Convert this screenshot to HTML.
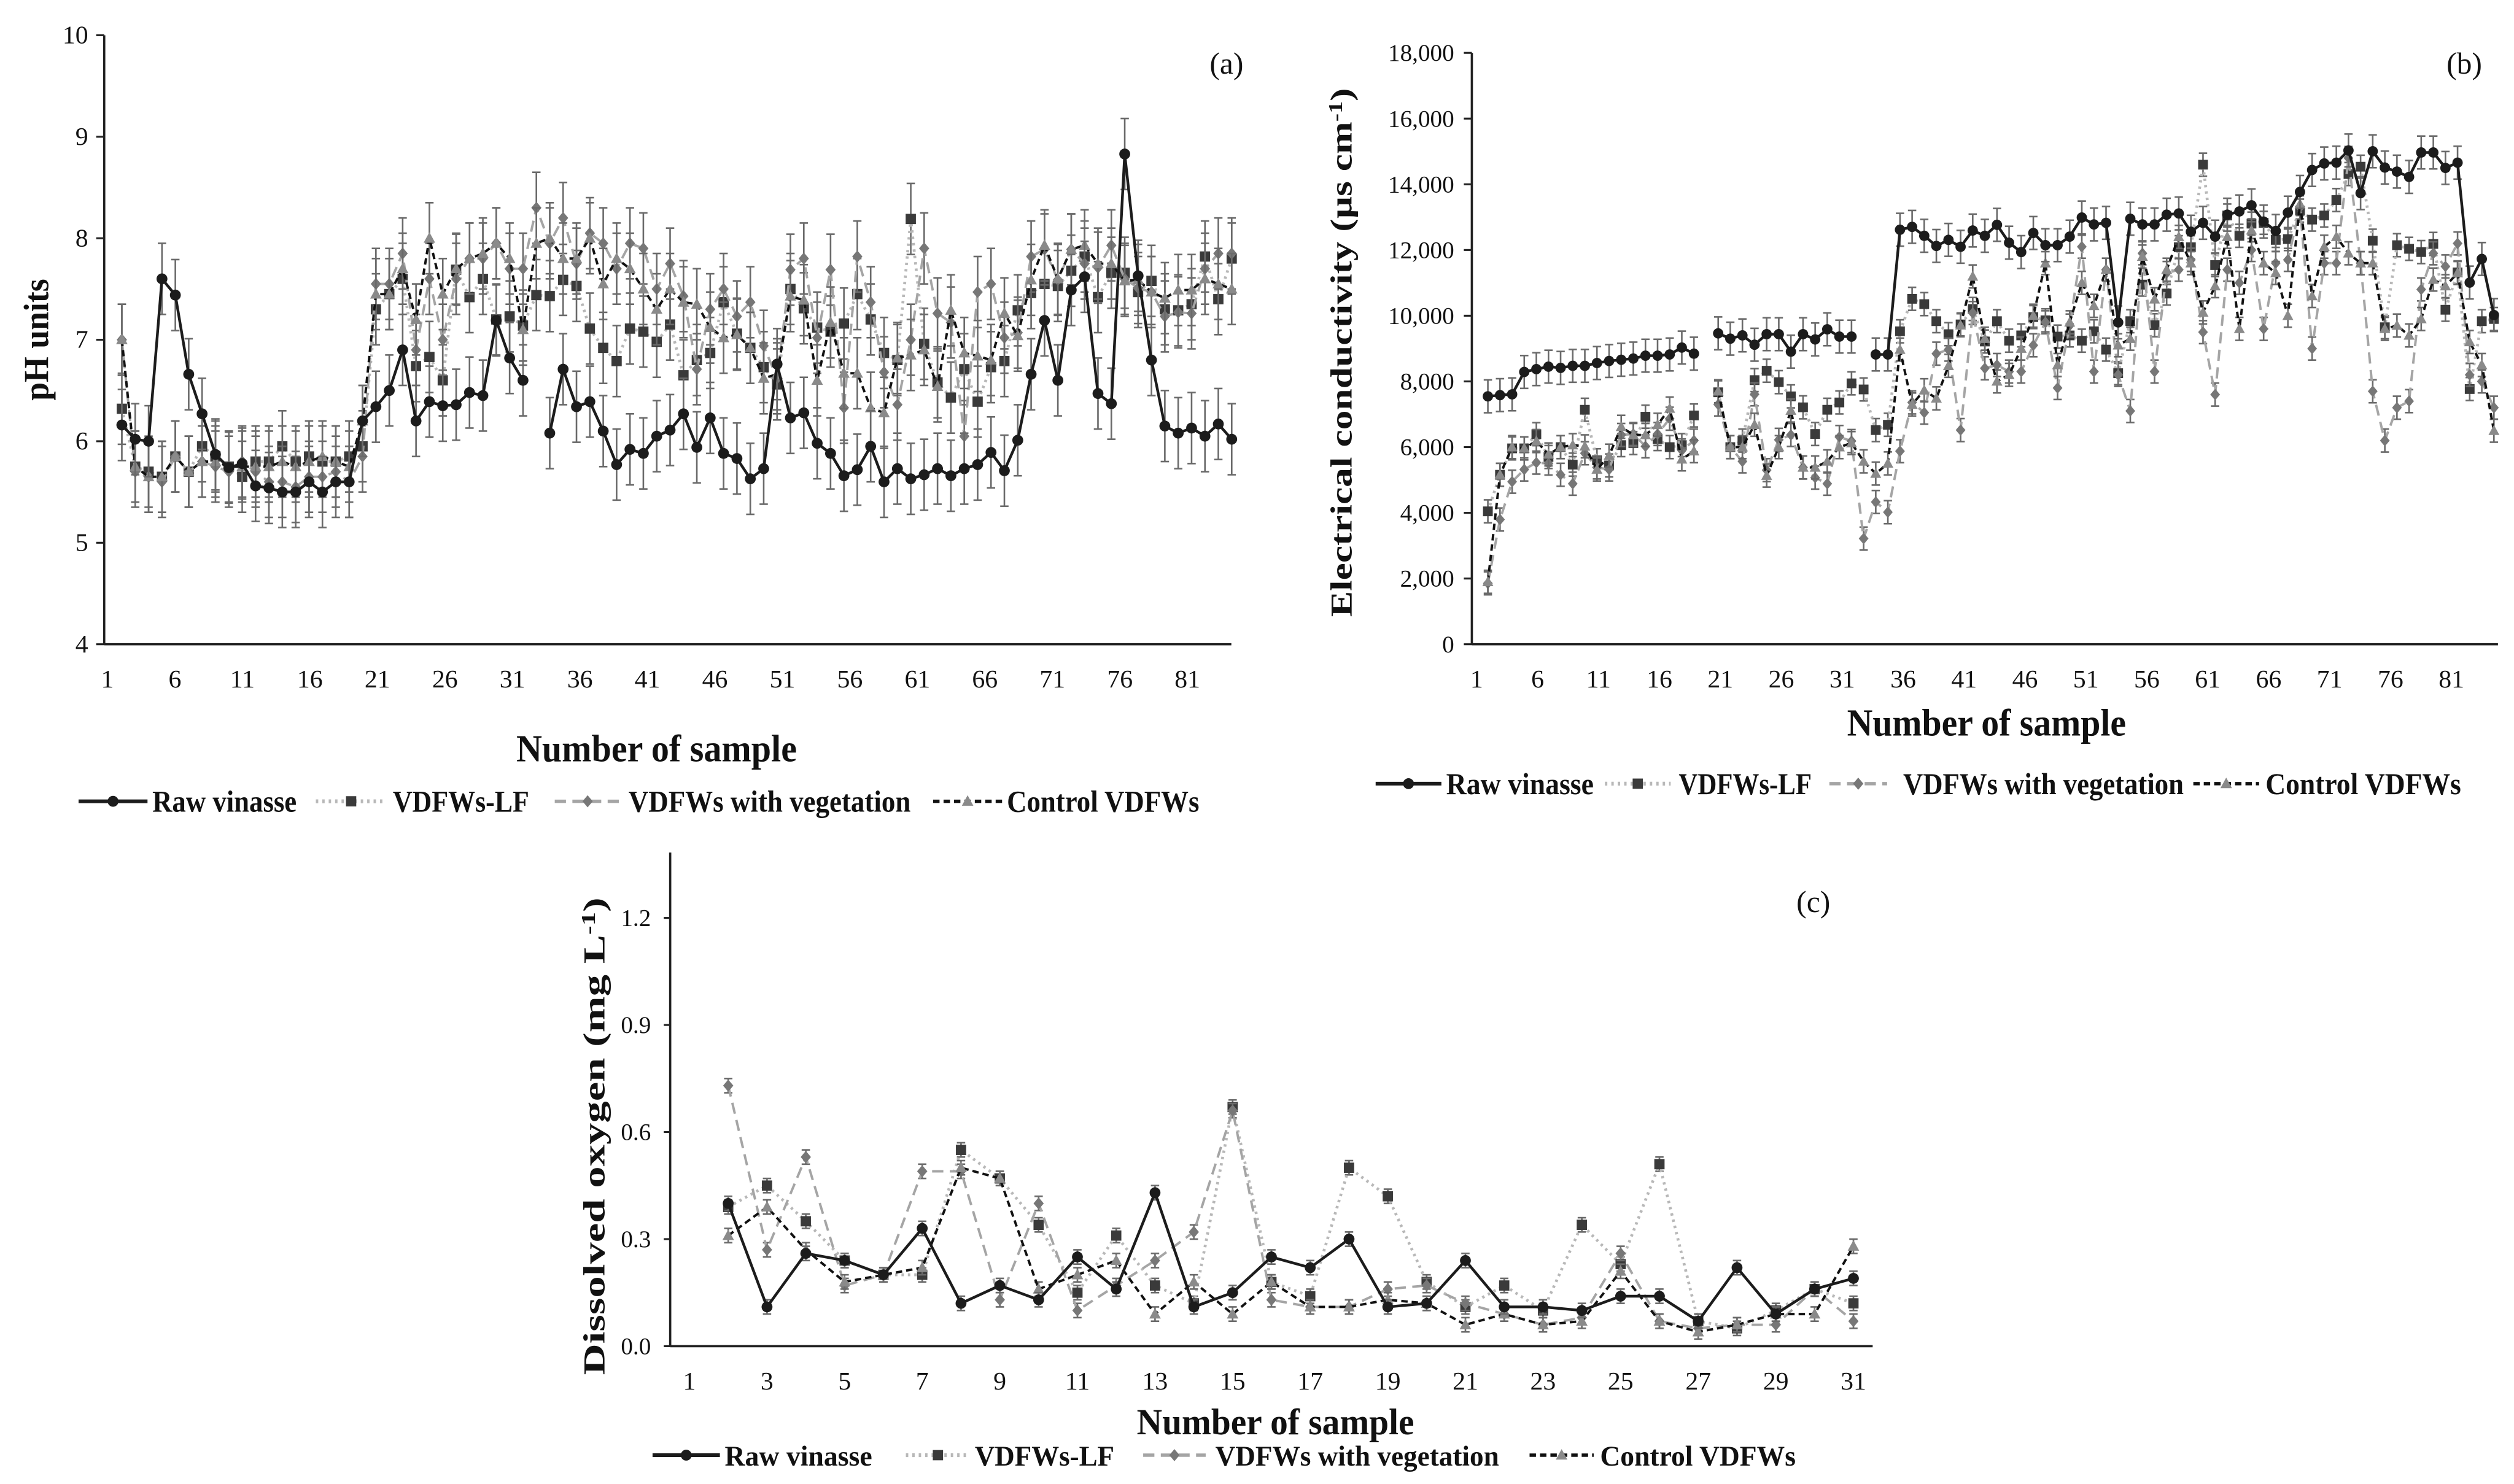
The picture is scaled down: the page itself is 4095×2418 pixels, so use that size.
<!DOCTYPE html>
<html><head><meta charset="utf-8">
<style>
html,body{margin:0;padding:0;background:#fff;}
svg{display:block;}
text{font-family:"Liberation Serif",serif;fill:#111;}
.b{font-weight:bold;}
</style></head>
<body>
<svg id="fig" xmlns="http://www.w3.org/2000/svg" width="4095" height="2418" viewBox="0 0 1568 926" preserveAspectRatio="none">
<g id="pa"></g>
<g id="pb"></g>
<g id="pc"></g>
</svg>
<script>
// ---------- data: panel (a) pH ----------
const rawA=[6.16,6.02,6.0,7.6,7.44,6.66,6.27,5.87,5.74,5.78,5.56,5.54,5.5,5.5,5.6,5.5,5.6,5.6,6.2,6.34,6.5,6.9,6.2,6.39,6.35,6.36,6.48,6.45,7.19,6.82,6.6,null,6.08,6.71,6.34,6.39,6.1,5.77,5.92,5.88,6.05,6.11,6.27,5.94,6.23,5.88,5.83,5.63,5.73,6.76,6.23,6.28,5.98,5.88,5.66,5.72,5.95,5.6,5.73,5.63,5.67,5.73,5.66,5.73,5.77,5.89,5.71,6.01,6.66,7.19,6.6,7.49,7.62,6.47,6.37,8.83,7.63,6.8,6.15,6.08,6.13,6.05,6.17,6.02];
const lfA=[6.32,5.75,5.7,5.65,5.85,5.7,5.95,5.85,5.75,5.65,5.8,5.8,5.95,5.8,5.85,5.8,5.8,5.85,5.95,7.3,7.45,7.6,6.74,6.83,6.6,7.69,7.42,7.6,7.2,7.23,7.14,7.44,7.43,7.59,7.53,7.11,6.92,6.79,7.11,7.08,6.98,7.15,6.65,6.8,6.87,7.37,7.06,6.92,6.73,6.56,7.5,7.31,7.12,7.08,7.16,7.45,7.2,6.87,6.8,8.19,6.96,6.58,6.43,6.71,6.39,6.73,6.79,7.29,7.46,7.55,7.53,7.68,7.82,7.42,7.66,7.66,7.47,7.58,7.3,7.29,7.35,7.82,7.4,7.8];
const vegA=[7.0,5.7,5.65,5.6,5.85,5.7,5.8,5.75,5.7,5.8,5.7,5.6,5.6,5.55,5.65,5.65,5.7,5.6,5.85,7.55,7.55,7.85,6.9,7.6,7.0,7.6,7.8,7.8,7.95,7.7,7.7,8.3,7.95,8.2,7.75,8.05,7.95,7.7,7.95,7.9,7.5,7.75,7.43,6.71,7.3,7.5,7.23,7.37,6.94,6.62,7.69,7.8,7.02,7.69,6.33,7.82,7.37,6.68,6.36,7.0,7.9,7.26,7.17,6.05,7.47,7.55,7.02,7.07,7.82,7.89,7.59,7.89,7.75,7.71,7.93,7.6,7.51,7.47,7.23,7.27,7.26,7.7,7.85,7.85];
const ctlA=[7.0,5.75,5.65,5.65,5.85,5.7,5.8,5.8,5.75,5.75,5.75,5.75,5.8,5.75,5.8,5.85,5.8,5.75,6.2,7.45,7.45,7.7,7.2,8.0,7.45,7.7,7.8,7.85,7.95,7.8,7.1,7.95,8.0,7.8,7.8,8.0,7.55,7.8,7.7,7.5,7.3,7.5,7.37,7.35,7.12,7.02,7.05,6.92,6.62,6.66,7.43,7.39,6.6,7.17,6.67,6.67,6.33,6.28,6.82,6.85,6.9,6.54,7.29,6.87,6.84,6.8,7.26,7.04,7.59,7.93,7.6,7.89,7.93,7.75,7.75,7.58,7.59,7.47,7.41,7.49,7.49,7.6,7.55,7.5];
const yTicksA=[4,5,6,7,8,9,10];
const xTicksA=[1,6,11,16,21,26,31,36,41,46,51,56,61,66,71,76,81];
const errA=0.35;
// ---------- data: panel (b) EC ----------
const rawB=[7546,7583,7607,8288,8374,8449,8412,8474,8474,8560,8622,8659,8696,8783,8783,8820,9030,8845,null,9463,9302,9401,9117,9438,9438,8906,9438,9278,9587,9364,9364,null,8820,8820,12617,12704,12432,12123,12308,12098,12593,12432,12766,12222,11937,12518,12147,12147,12407,12989,12778,12827,9797,12951,12778,12778,13075,13112,12556,12827,12407,13075,13174,13360,12865,12580,13137,13768,14436,14634,14659,15030,13731,15005,14510,14386,14225,14968,14968,14498,14658,11009,11727,10020];
const lfB=[4045,5158,5962,5962,6395,5700,6000,5467,7137,5600,5442,6061,6123,6926,6246,6000,6061,6964,null,7669,6000,6200,8040,8325,7978,7545,7211,6400,7137,7360,7941,7756,6519,6680,9525,10514,10353,9834,9438,9735,10205,9215,9834,9240,9401,9958,9859,9364,9400,9240,9525,8968,8251,9834,10947,9710,10675,12085,12085,14597,11541,13050,12432,12803,12827,12308,12333,13199,12926,13050,13520,14312,14535,12283,9649,12147,12036,11937,12185,10181,11319,7768,9834,9900];
const vegB=[1855,3797,4948,5319,5529,5500,5158,4886,5814,5381,5319,6370,6400,6024,6400,6865,5900,6200,null,7298,6000,5566,7607,5300,6222,6370,5381,5072,4886,6309,6185,3216,4330,4020,5876,7360,7051,8845,8968,6519,10082,8400,8500,8300,8300,9100,9800,7800,9700,12100,8300,11400,8200,7100,11900,8300,11300,11400,11700,9500,7600,11400,11000,12000,9600,11600,11700,13300,9000,11600,11600,14800,11600,7700,6200,7200,7400,10800,11900,11500,12200,8200,8000,7200];
const ctlB=[1900,5158,6000,5962,6185,5777,6000,6061,6024,5319,5740,6618,6370,6370,6680,7175,5628,5876,null,7700,6000,6000,6680,5134,6000,7113,5381,5381,5566,6000,6123,5566,5195,5504,8968,7298,7731,7484,8474,9710,11195,9300,8000,8200,9000,10000,11600,8500,9800,11000,10300,11400,9100,9300,11800,10500,11400,12400,11600,10100,10900,12400,9600,12600,11600,11300,10000,13400,10600,12100,12400,11900,11600,11600,9600,9700,9400,9900,11100,10900,11300,9200,8500,6500];
const yTicksB=[0,2000,4000,6000,8000,10000,12000,14000,16000,18000];
const xTicksB=[1,6,11,16,21,26,31,36,41,46,51,56,61,66,71,76,81];
const errRawB=500, errB=350;
// ---------- data: panel (c) DO (samples 2..31) ----------
const samplesC=[2,3,4,5,6,7,8,9,10,11,12,13,14,15,16,17,18,19,20,21,22,23,24,25,26,27,28,29,30,31];
const rawC=[0.40,0.11,0.26,0.24,0.20,0.33,0.12,0.17,0.13,0.25,0.16,0.43,0.11,0.15,0.25,0.22,0.30,0.11,0.12,0.24,0.11,0.11,0.10,0.14,0.14,0.07,0.22,0.09,0.16,0.19];
const lfC=[0.39,0.45,0.35,0.24,0.20,0.20,0.55,0.47,0.34,0.15,0.31,0.17,0.12,0.67,0.18,0.14,0.50,0.42,0.18,0.11,0.17,0.10,0.34,0.23,0.51,0.07,0.05,0.10,0.16,0.12];
const vegC=[0.73,0.27,0.53,0.17,0.20,0.49,0.49,0.13,0.40,0.10,0.17,0.24,0.32,0.66,0.13,0.11,0.11,0.16,0.17,0.12,0.09,0.06,0.08,0.26,0.07,0.05,0.06,0.06,0.16,0.07];
const ctlC=[0.31,0.39,0.27,0.18,0.20,0.22,0.50,0.47,0.16,0.20,0.24,0.09,0.18,0.09,0.18,0.11,0.11,0.13,0.12,0.06,0.09,0.06,0.07,0.21,0.07,0.04,0.06,0.09,0.09,0.28];
const yTicksC=[0,0.3,0.6,0.9,1.2];
const yTickLabelsC=["0.0","0.3","0.6","0.9","1.2"];
const xTicksC=[1,3,5,7,9,11,13,15,17,19,21,23,25,27,29,31];
const errC=0.02;

const NS="http://www.w3.org/2000/svg";
function mk(parent,tag,attrs){const e=document.createElementNS(NS,tag);for(const k in attrs)e.setAttribute(k,attrs[k]);parent.appendChild(e);return e;}

const STY={
 raw:{stroke:"#1c1c1c",w:1.7,dash:"",fill:"#1c1c1c",m:"circle"},
 lf:{stroke:"#b8b8b8",w:1.8,dash:"1.5 2.5",fill:"#3a3a3a",m:"square"},
 veg:{stroke:"#a5a5a5",w:1.5,dash:"7 4",fill:"#777",m:"diamond"},
 ctl:{stroke:"#111",w:1.5,dash:"4 2.5",fill:"#8a8a8a",m:"triangle"}
};
function marker(g,type,x,y,fill,s){
 let e;
 if(type==="circle") e=mk(g,"circle",{cx:x,cy:y,r:3.4*s,fill:fill});
 else if(type==="square") e=mk(g,"rect",{x:x-3.2*s,y:y-3.2*s,width:6.4*s,height:6.4*s,fill:fill});
 else if(type==="diamond") e=mk(g,"polygon",{points:`${x},${y-3.8*s} ${x+3.2*s},${y} ${x},${y+3.8*s} ${x-3.2*s},${y}`,fill:fill});
 else e=mk(g,"polygon",{points:`${x},${y-3.8*s} ${x+3.6*s},${y+2.8*s} ${x-3.6*s},${y+2.8*s}`,fill:fill});
 return e;
}
function series(g,name,vals,xf,yf,key,err,s){
 const st=STY[key];
 const sg=mk(g,"g",{});
 
 
 if(err){
  const eg=mk(sg,"g",{stroke:"#6a6a6a","stroke-width":1});
  vals.forEach((v,i)=>{if(v==null)return;const x=xf(i),y1=yf(v-err),y2=yf(v+err);
   mk(eg,"line",{x1:x,x2:x,y1:y1,y2:y2});mk(eg,"line",{x1:x-2.6,x2:x+2.6,y1:y1,y2:y1});mk(eg,"line",{x1:x-2.6,x2:x+2.6,y1:y2,y2:y2});});
 }
 let d="",pen=false;
 vals.forEach((v,i)=>{if(v==null){pen=false;return;}d+=(pen?"L":"M")+xf(i).toFixed(2)+","+yf(v).toFixed(2);pen=true;});
 const p=mk(sg,"path",{d:d,fill:"none",stroke:st.stroke,"stroke-width":st.w,"stroke-dasharray":st.dash});
 
 
 vals.forEach((v,i)=>{if(v==null)return;const m=marker(sg,st.m,xf(i),yf(v),st.fill,s);
  
  });
}
function txt(g,x,y,str,attrs){const t=mk(g,"text",Object.assign({x:x,y:y},attrs||{}));t.textContent=str;return t;}
function ctext(g,x,y,str,fs,w,bold,name){
 const t=mk(g,"text",{x:0,y:0,"font-size":fs});
 if(bold)t.setAttribute("class","b");
 t.textContent=str;
 
 
 const nat=t.getComputedTextLength()||w;
 t.setAttribute("transform",`translate(${x},${y}) scale(${w/nat},1)`);
 return t;
}
function legend(g,y,items,fs){
 const lg=mk(g,"g",{});
 
 
 items.forEach(it=>{
  const st=STY[it.key];
  const eg=mk(lg,"g",{});
  
  
  mk(eg,"line",{x1:it.x0,x2:it.x1,y1:y,y2:y,stroke:st.stroke,"stroke-width":st.w+0.6,"stroke-dasharray":st.dash});
  marker(eg,st.m,(it.x0+it.x1)/2,y,st.fill,1);
  ctext(eg,it.tx,y+6.5,it.label,fs,it.tw,true,'legend-label');
 });
}

// ---------- panel (a) ----------
(function(){
 const g=document.getElementById("pa");
 const L=65,R=768,T=22,B=402;
 const yf=v=>B-(v-4)/6*(B-T);
 const xf=i=>76+i*8.34;
 const xl=v=>67+(v-1)*8.42;
 mk(g,"line",{x1:L,x2:L,y1:T,y2:B,stroke:"#222","stroke-width":1.4});
 mk(g,"line",{x1:L,x2:R,y1:B,y2:B,stroke:"#222","stroke-width":1.4});
 yTicksA.forEach(v=>{mk(g,"line",{x1:L-5,x2:L,y1:yf(v),y2:yf(v),stroke:"#222","stroke-width":1.2});
  txt(g,L-10,yf(v)+5,String(v),{"font-size":16,"text-anchor":"end"});});
 xTicksA.forEach(v=>txt(g,xl(v),429,String(v),{"font-size":16,"text-anchor":"middle"}));
 const yg=mk(g,"g",{transform:"translate(30,250) rotate(-90)"});
 ctext(yg,0,0,"pH units",22,76,true,'y-axis-title-a');
 ctext(g,322,475,"Number of sample",24,175,true,'x-axis-title-a');
 txt(g,765,46,"(a)",{"font-size":19,"text-anchor":"middle"});
 series(g,"vdfws-lf-a",lfA,xf,yf,"lf",errA,1);
 series(g,"vdfws-vegetation-a",vegA,xf,yf,"veg",errA,1);
 series(g,"control-vdfws-a",ctlA,xf,yf,"ctl",errA,1);
 series(g,"raw-vinasse-a",rawA,xf,yf,"raw",errA,1);
 legend(g,500,[{key:"raw",x0:49,x1:92,tx:95,tw:90,label:"Raw vinasse"},{key:"lf",x0:197,x1:241,tx:245,tw:85,label:"VDFWs-LF"},{key:"veg",x0:346,x1:387,tx:392,tw:176,label:"VDFWs with vegetation"},{key:"ctl",x0:582,x1:625,tx:628,tw:120,label:"Control VDFWs"}],19);
})();

// ---------- panel (b) ----------
(function(){
 const g=document.getElementById("pb");
 const L=918,R=1558,T=33,B=402;
 const yf=v=>B-v/18000*(B-T);
 const xf=i=>928+i*7.56;
 const xl=v=>921+(v-1)*7.6;
 mk(g,"line",{x1:L,x2:L,y1:T,y2:B,stroke:"#222","stroke-width":1.4});
 mk(g,"line",{x1:L,x2:R,y1:B,y2:B,stroke:"#222","stroke-width":1.4});
 yTicksB.forEach(v=>{mk(g,"line",{x1:L-5,x2:L,y1:yf(v),y2:yf(v),stroke:"#222","stroke-width":1.2});
  txt(g,L-11,yf(v)+5,v.toLocaleString("en-US"),{"font-size":15,"text-anchor":"end"});});
 xTicksB.forEach(v=>txt(g,xl(v),429,String(v),{"font-size":16,"text-anchor":"middle"}));
 const yt=mk(g,"text",{"font-size":19,"class":"b","text-anchor":"middle",transform:"translate(843,220) rotate(-90)",textLength:330,lengthAdjust:"spacingAndGlyphs"});
 yt.innerHTML='Electrical conductivity (µs cm<tspan dy="-6" font-size="12">-1</tspan><tspan dy="6">)</tspan>';
 
 ctext(g,1152,459,"Number of sample",24,174,true,'x-axis-title-b');
 txt(g,1537,46,"(b)",{"font-size":19,"text-anchor":"middle"});
 series(g,"vdfws-lf-b",lfB,xf,yf,"lf",errB,0.95);
 series(g,"vdfws-vegetation-b",vegB,xf,yf,"veg",errB,0.95);
 series(g,"control-vdfws-b",ctlB,xf,yf,"ctl",errB,0.95);
 series(g,"raw-vinasse-b",rawB,xf,yf,"raw",errRawB,0.95);
 legend(g,489,[{key:"raw",x0:858,x1:899,tx:902,tw:92,label:"Raw vinasse"},{key:"lf",x0:1001,x1:1042,tx:1047,tw:83,label:"VDFWs-LF"},{key:"veg",x0:1141,x1:1177,tx:1187,tw:175,label:"VDFWs with vegetation"},{key:"ctl",x0:1368,x1:1409,tx:1413,tw:122,label:"Control VDFWs"}],19);
})();

// ---------- panel (c) ----------
(function(){
 const g=document.getElementById("pc");
 const L=418,R=1168,T=532,B=840;
 const yf=v=>B-v*222.7;
 const xs=s=>430+(s-1)*24.2;
 const xf=i=>xs(samplesC[i]);
 mk(g,"line",{x1:L,x2:L,y1:T,y2:B,stroke:"#222","stroke-width":1.4});
 mk(g,"line",{x1:L,x2:R,y1:B,y2:B,stroke:"#222","stroke-width":1.4});
 yTicksC.forEach((v,k)=>{mk(g,"line",{x1:L-4,x2:L,y1:yf(v),y2:yf(v),stroke:"#222","stroke-width":1.2});
  txt(g,L-12,yf(v)+5,yTickLabelsC[k],{"font-size":15,"text-anchor":"end"});});
 xTicksC.forEach(v=>txt(g,xs(v),867,String(v),{"font-size":16,"text-anchor":"middle"}));
 const yt=mk(g,"text",{"font-size":19,"class":"b","text-anchor":"middle",transform:"translate(377,709) rotate(-90)",textLength:298,lengthAdjust:"spacingAndGlyphs"});
 yt.innerHTML='Dissolved oxygen (mg L<tspan dy="-6" font-size="12">-1</tspan><tspan dy="6">)</tspan>';
 
 ctext(g,709,895,"Number of sample",23,173,true,'x-axis-title-c');
 txt(g,1131,569,"(c)",{"font-size":19,"text-anchor":"middle"});
 series(g,"vdfws-lf-c",lfC,xf,yf,"lf",errC,1);
 series(g,"vdfws-vegetation-c",vegC,xf,yf,"veg",errC,1);
 series(g,"control-vdfws-c",ctlC,xf,yf,"ctl",errC,1);
 series(g,"raw-vinasse-c",rawC,xf,yf,"raw",errC,1);
 legend(g,908,[{key:"raw",x0:407,x1:449,tx:452,tw:92,label:"Raw vinasse"},{key:"lf",x0:565,x1:605,tx:608,tw:87,label:"VDFWs-LF"},{key:"veg",x0:713,x1:752,tx:758,tw:177,label:"VDFWs with vegetation"},{key:"ctl",x0:954,x1:994,tx:998,tw:122,label:"Control VDFWs"}],18);
})();
</script>
</body></html>
